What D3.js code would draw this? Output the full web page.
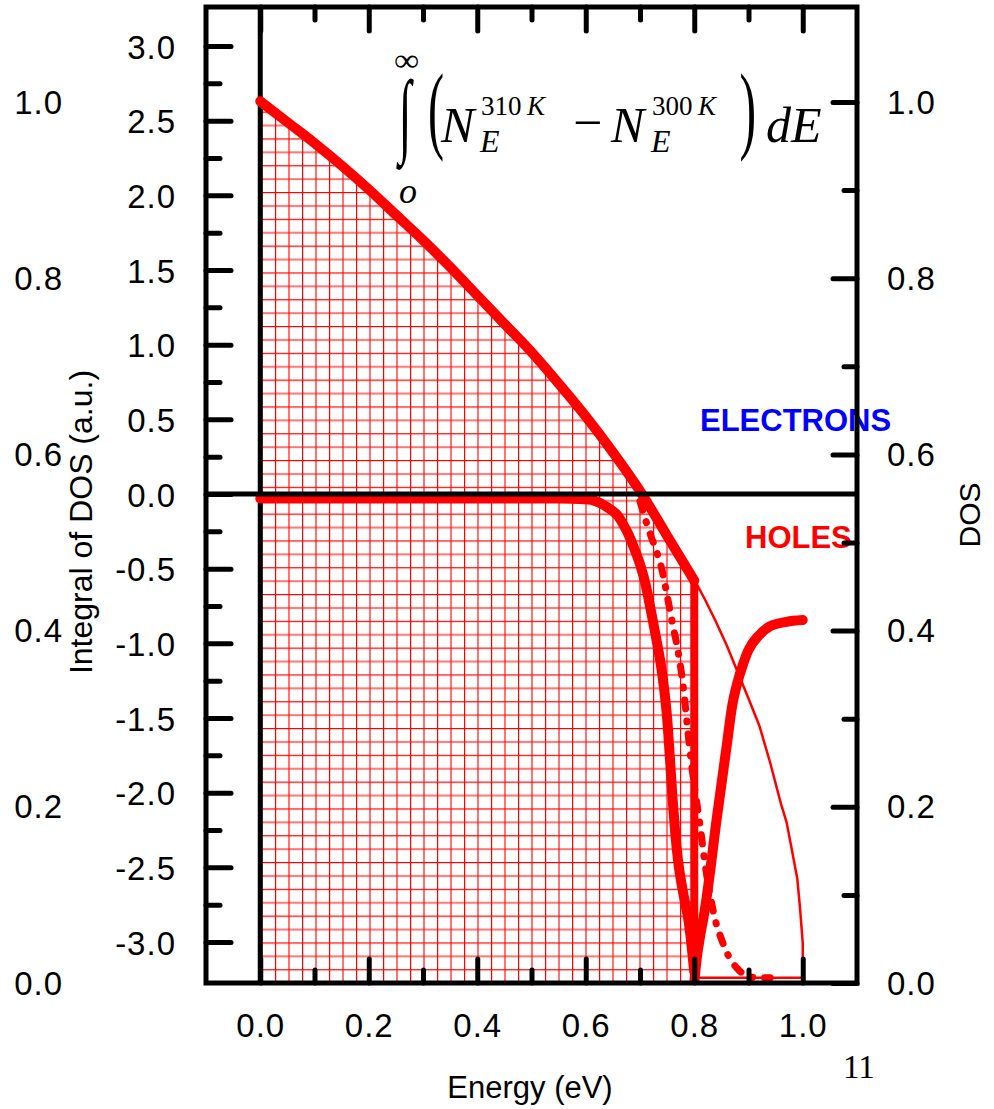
<!DOCTYPE html>
<html>
<head>
<meta charset="utf-8">
<script src="https://cdn.jsdelivr.net/npm/d3@7"></script>
<style>
body { margin: 0; background: #fff; }
svg { display: block; }
</style>
</head>
<body>
<script>
// electrons: integral of DOS difference (left axis)
var electronE   = [0, 0.05, 0.1, 0.15, 0.2, 0.25, 0.3, 0.35, 0.4, 0.45, 0.5, 0.55, 0.6, 0.65, 0.7, 0.75, 0.8];
var electronInt = [2.63, 2.49, 2.35, 2.2, 2.04, 1.87, 1.7, 1.52, 1.33, 1.14, 0.95, 0.74, 0.52, 0.28, 0.02, -0.28, -0.58];

// holes (left axis)
var holeE   = [0, 0.55, 0.6, 0.62, 0.64, 0.66, 0.67, 0.68, 0.69, 0.7, 0.71, 0.72, 0.73, 0.74, 0.745, 0.75, 0.755, 0.76, 0.765, 0.77, 0.78, 0.79, 0.8];
var holeInt = [-0.03, -0.03, -0.035, -0.05, -0.09, -0.15, -0.21, -0.28, -0.37, -0.47, -0.6, -0.78, -0.97, -1.18, -1.32, -1.5, -1.76, -2.04, -2.27, -2.45, -2.68, -2.87, -3.2];

// dotted tail (left axis)
var tailE   = [0.7, 0.71, 0.72, 0.73, 0.74, 0.75, 0.76, 0.77, 0.78, 0.79, 0.8, 0.81, 0.82, 0.83, 0.84, 0.85, 0.86, 0.88, 0.9, 0.92, 0.94];
var tailInt = [-0.05, -0.17, -0.28, -0.38, -0.5, -0.68, -0.87, -1.05, -1.3, -1.65, -1.95, -2.2, -2.48, -2.7, -2.87, -2.98, -3.07, -3.18, -3.23, -3.24, -3.24];

// thin DOS curve (right axis)
var dosE   = [0.8, 0.82, 0.84, 0.86, 0.88, 0.9, 0.92, 0.94, 0.96, 0.97, 0.98, 0.99, 0.995, 1.0, 1.0, 0.8];
var dosVal = [0.458, 0.435, 0.41, 0.383, 0.353, 0.323, 0.292, 0.25, 0.203, 0.183, 0.151, 0.118, 0.085, 0.045, 0.006, 0.006];

// thick rising curve (right axis)
var riseE   = [0.8, 0.805, 0.81, 0.82, 0.83, 0.84, 0.85, 0.86, 0.87, 0.88, 0.89, 0.9, 0.92, 0.94, 0.97, 1.0];
var riseDos = [0.0, 0.03, 0.05, 0.085, 0.13, 0.18, 0.225, 0.27, 0.315, 0.342, 0.362, 0.378, 0.395, 0.405, 0.41, 0.412];

var xMajor = [0, 0.2, 0.4, 0.6, 0.8, 1.0];
var xMinor = [0.1, 0.3, 0.5, 0.7, 0.9];
var intMajor = [-3, -2.5, -2, -1.5, -1, -0.5, 0, 0.5, 1, 1.5, 2, 2.5, 3];
var intMinor = [-2.75, -2.25, -1.75, -1.25, -0.75, -0.25, 0.25, 0.75, 1.25, 1.75, 2.25, 2.75];
var dosMajor = [0, 0.2, 0.4, 0.6, 0.8, 1.0];
var dosMinor = [0.1, 0.3, 0.5, 0.7, 0.9];

var width = 994, height = 1109;
var plotTop = 7, plotBottom = 983;
var sans = '"Liberation Sans", Arial, sans-serif';
var serif = '"Liberation Serif", "Times New Roman", serif';

var svg = d3.select('body').append('svg')
    .attr('width', width)
    .attr('height', height);

var x = d3.scaleLinear().domain([-0.1, 1.1]).range([206, 857]);
var yInt = d3.scaleLinear().domain([-3, 3]).range([942, 46]);
var yDos = d3.scaleLinear().domain([0, 1]).range([983, 102]);

var plotLeft = x(-0.1), plotRight = x(1.1);

var defs = svg.append('defs');
defs.append('clipPath').attr('id', 'plot')
    .append('rect')
    .attr('x', plotLeft).attr('y', plotTop)
    .attr('width', plotRight - plotLeft).attr('height', plotBottom - plotTop);

//red crosshatch used by Origin for the filled area
var pat = defs.append('pattern')
    .attr('id', 'grid')
    .attr('patternUnits', 'userSpaceOnUse')
    .attr('x', 275).attr('y', 460)
    .attr('width', 27).attr('height', 26.8);
pat.append('line').attr('x1', 0.6).attr('x2', 0.6).attr('y1', 0).attr('y2', 26.8)
    .attr('stroke', '#ff0000').attr('stroke-width', 1.2);
pat.append('line').attr('x1', 14).attr('x2', 14).attr('y1', 0).attr('y2', 26.8)
    .attr('stroke', 'rgba(255,0,0,0.55)').attr('stroke-width', 2);
pat.append('line').attr('y1', 0.6).attr('y2', 0.6).attr('x1', 0).attr('x2', 27)
    .attr('stroke', '#ff0000').attr('stroke-width', 1.2);
pat.append('line').attr('y1', 14).attr('y2', 14).attr('x1', 0).attr('x2', 27)
    .attr('stroke', 'rgba(255,0,0,0.55)').attr('stroke-width', 2);

function zip(a, b) {
    return a.map(function(v, i){ return [v, b[i]]; });
}

var electrons = zip(electronE, electronInt);
var holes = zip(holeE, holeInt);
var tail = zip(tailE, tailInt);
var dos = zip(dosE, dosVal);
var rise = zip(riseE, riseDos);

var smoothInt = d3.line().curve(d3.curveMonotoneX)
    .x(function(d){ return x(d[0]); }).y(function(d){ return yInt(d[1]); });
var lineInt = d3.line().x(function(d){ return x(d[0]); }).y(function(d){ return yInt(d[1]); });
var lineDos = d3.line().x(function(d){ return x(d[0]); }).y(function(d){ return yDos(d[1]); });
var smoothDos = d3.line().curve(d3.curveMonotoneX)
    .x(function(d){ return x(d[0]); }).y(function(d){ return yDos(d[1]); });
var areaInt = d3.area().curve(d3.curveMonotoneX)
    .x(function(d){ return x(d[0]); })
    .y0(plotBottom)
    .y1(function(d){ return yInt(d[1]); });

var plot = svg.append('g').attr('clip-path', 'url(#plot)');

plot.append('path')
    .attr('d', areaInt(electrons))
    .attr('fill', 'url(#grid)')
    .attr('stroke', '#ff0000')
    .attr('stroke-width', 1.5);

//black vertical line at E = 0
plot.append('line')
    .attr('x1', x(0)).attr('x2', x(0))
    .attr('y1', plotTop).attr('y2', plotBottom)
    .attr('stroke', '#000').attr('stroke-width', 5);

plot.append('path')
    .attr('d', lineDos(dos))
    .attr('fill', 'none')
    .attr('stroke', '#ff0000')
    .attr('stroke-width', 2.5);

function thick(d, w) {
    return plot.append('path')
        .attr('d', d)
        .attr('fill', 'none')
        .attr('stroke', '#ff0000')
        .attr('stroke-width', w)
        .attr('stroke-linejoin', 'round')
        .attr('stroke-linecap', 'round');
}

var last = electrons[electrons.length - 1];
thick(smoothInt(electrons), 10);
thick(lineInt([last, [last[0], yInt.invert(plotBottom)]]), 8);
thick(smoothInt(holes), 10);
thick(smoothInt(tail), 7).attr('stroke-dasharray', '9,12,1,12');
thick(smoothDos(rise), 10);

//black horizontal line at 0
plot.append('line')
    .attr('x1', plotLeft).attr('x2', plotRight)
    .attr('y1', yInt(0)).attr('y2', yInt(0))
    .attr('stroke', '#000').attr('stroke-width', 5);

//labels inside the plot
svg.append('text')
    .attr('x', 700).attr('y', 431)
    .attr('fill', '#0000ff')
    .style('font', 'bold 31px ' + sans)
    .text('ELECTRONS');

svg.append('text')
    .attr('x', 745).attr('y', 548)
    .attr('fill', '#ff0000')
    .style('font', 'bold 31px ' + sans)
    .text('HOLES');

//formula
var measureCtx = document.createElement('canvas').getContext('2d');
function fitGlyph(str, family, style, box) {
    measureCtx.font = style + ' 100px ' + family;
    var m = measureCtx.measureText(str);
    var l = -m.actualBoundingBoxLeft, r = m.actualBoundingBoxRight;
    var asc = m.actualBoundingBoxAscent, desc = m.actualBoundingBoxDescent;
    var sx = (box[2] - box[0]) / (r - l), sy = (box[3] - box[1]) / (asc + desc);
    svg.append('text')
        .attr('transform', 'translate(' + (box[0] - l * sx) + ',' + (box[1] + asc * sy) + ') scale(' + sx + ',' + sy + ')')
        .style('font', style + ' 100px ' + family)
        .text(str);
}
function addText(str, px, py, size, style, anchor, family) {
    return svg.append('text')
        .attr('x', px).attr('y', py)
        .attr('text-anchor', anchor || 'start')
        .style('font', (style || 'normal') + ' ' + size + 'px ' + (family || serif))
        .text(str);
}

fitGlyph('\u222B', serif, 'bold', [396, 78, 414, 170]);
fitGlyph('(', serif, 'normal', [430, 73, 443, 163]);
fitGlyph(')', serif, 'normal', [741, 73, 754, 163]);
fitGlyph('\u221E', serif, 'normal', [395, 55, 418, 68]);
addText('o', 408, 203, 36, 'italic', 'middle');
addText('N', 441, 142, 50, 'italic');
addText('310', 481, 115, 27, 'normal');
addText('K', 527, 115, 27, 'italic');
addText('E', 480, 152, 32, 'italic');
addText('\u2212', 573, 140, 52, 'normal');
addText('N', 611, 142, 50, 'italic');
addText('300', 652, 115, 27, 'normal');
addText('K', 698, 115, 27, 'italic');
addText('E', 651, 152, 32, 'italic');
addText('dE', 766, 142, 50, 'italic');

//frame
svg.append('rect')
    .attr('x', plotLeft).attr('y', plotTop)
    .attr('width', plotRight - plotLeft).attr('height', plotBottom - plotTop)
    .attr('fill', 'none')
    .attr('stroke', '#000')
    .attr('stroke-width', 5);

function axisGroup(axis, tx, ty) {
    var g = svg.append('g')
        .attr('transform', 'translate(' + tx + ',' + ty + ')')
        .call(axis);
    g.select('.domain').remove();
    g.selectAll('line')
        .attr('stroke', '#000')
        .attr('stroke-width', 5)
        .attr('stroke-linecap', 'round');
    g.attr('font-size', 33).attr('font-family', sans);
    g.selectAll('text').attr('fill', '#000').style('letter-spacing', '1px');
    return g;
}
function labelGroup(axis, tx, ty) {
    var g = axisGroup(axis, tx, ty);
    g.selectAll('line').remove();
    return g;
}
function fmt(d){ return d.toFixed(1); }

//ticks pointing inward on all four sides
axisGroup(d3.axisBottom(x).tickValues(xMajor).tickSize(-24).tickFormat(''), 0, plotBottom);
axisGroup(d3.axisBottom(x).tickValues(xMinor).tickSize(-13).tickFormat(''), 0, plotBottom);
axisGroup(d3.axisTop(x).tickValues(xMajor).tickSize(-24).tickFormat(''), 0, plotTop);
axisGroup(d3.axisTop(x).tickValues(xMinor).tickSize(-13).tickFormat(''), 0, plotTop);
axisGroup(d3.axisLeft(yInt).tickValues(intMajor).tickSize(-25).tickFormat(''), plotLeft, 0);
axisGroup(d3.axisLeft(yInt).tickValues(intMinor).tickSize(-14).tickFormat(''), plotLeft, 0);
axisGroup(d3.axisRight(yDos).tickValues(dosMajor).tickSize(-24).tickFormat(''), plotRight, 0);
axisGroup(d3.axisRight(yDos).tickValues(dosMinor).tickSize(-13).tickFormat(''), plotRight, 0);

//tick labels
var bl = labelGroup(d3.axisBottom(x).tickValues(xMajor).tickSize(0).tickFormat(fmt), 0, plotBottom);
bl.selectAll('text').attr('y', 54).attr('dy', 0);

var ll = labelGroup(d3.axisLeft(yInt).tickValues(intMajor).tickSize(0).tickPadding(30).tickFormat(fmt), plotLeft, 0);
ll.selectAll('text').attr('dy', 12);

var fl = labelGroup(d3.axisLeft(yDos).tickValues(dosMajor).tickSize(0).tickPadding(0).tickFormat(fmt), 63, 0);
fl.selectAll('text').attr('dy', 11);

var rl = labelGroup(d3.axisRight(yDos).tickValues(dosMajor).tickSize(0).tickPadding(30).tickFormat(fmt), plotRight, 0);
rl.selectAll('text').attr('dy', 11);

//axis titles
addText('Energy (eV)', 530, 1098, 31, 'normal', 'middle', sans);
addText('11', 843, 1078, 33, 'normal', 'start', serif);

svg.append('text')
    .attr('transform', 'translate(92,522) rotate(-90)')
    .attr('text-anchor', 'middle')
    .style('font', '32px ' + sans)
    .text('Integral of DOS (a.u.)');

svg.append('text')
    .attr('transform', 'translate(980,515) rotate(-90)')
    .attr('text-anchor', 'middle')
    .style('font', '30px ' + sans)
    .text('DOS');
</script>
</body>
</html>
